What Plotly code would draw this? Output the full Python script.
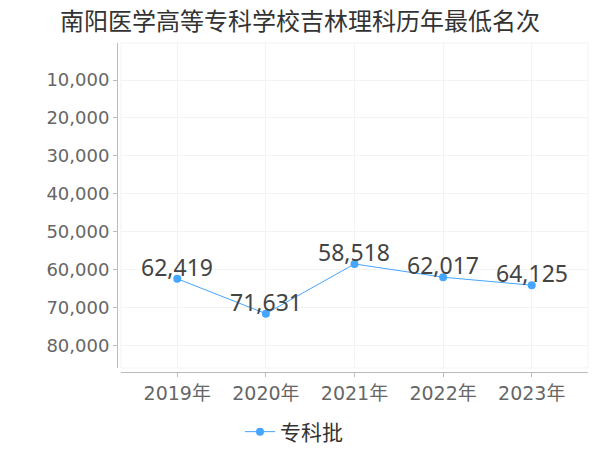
import plotly.graph_objects as go

title = "南阳医学高等专科学校吉林理科历年最低名次"
years = ["2019年", "2020年", "2021年", "2022年", "2023年"]
ranks = [62419, 71631, 58518, 62017, 64125]
series_name = "专科批"
y_ticks = [10000, 20000, 30000, 40000, 50000, 60000, 70000, 80000]

W, H = 600, 450
L, R, T, B = 117, 588.5, 43.3, 372.3
pad = 4

fig = go.Figure()
fig.add_trace(go.Scatter(
    x=years, y=ranks, name=series_name, mode="lines+markers",
    line=dict(color="#45a5ff", width=1),
    marker=dict(color="#45a5ff", size=8),
    cliponaxis=False,
))

annotations = [
    dict(x=yr, y=v, xref="x", yref="y", text=f"{v:,}", showarrow=False,
         xanchor="center", yanchor="middle", yshift=12,
         font=dict(family="Noto Sans, DejaVu Sans", size=23, color="#444444"))
    for yr, v in zip(years, ranks)
]

fig.update_layout(
    width=W, height=H,
    margin=dict(l=L, r=W - R, t=T, b=H - B, pad=0, autoexpand=False),
    paper_bgcolor="white", plot_bgcolor="white",
    title=dict(text=title, x=0.5, xanchor="center", xref="container",
               y=1 - 22 / H, yanchor="middle", yref="container",
               font=dict(family="Noto Sans CJK SC", size=24, color="#333333")),
    showlegend=True,
    legend=dict(orientation="h", x=294 / W, xanchor="center", xref="container",
                y=1 - 432 / H, yanchor="middle", yref="container",
                font=dict(family="Noto Sans CJK SC", size=21, color="#333333"),
                itemwidth=30),
    annotations=annotations,
    xaxis=dict(
        domain=[pad / (R - L), 1], anchor="free", position=0, automargin=False,
        type="category", range=[-0.635, 4.635],
        showline=True, linecolor="#bbbbbb", linewidth=1,
        ticks="outside", ticklen=4, tickcolor="#bbbbbb",
        showgrid=True, gridcolor="#f3f3f3", gridwidth=1,
        tickfont=dict(family="DejaVu Sans, Noto Sans CJK SC", size=19, color="#666666"),
        zeroline=False,
    ),
    yaxis=dict(
        domain=[pad / (B - T), 1], anchor="free", position=0, automargin=False,
        range=[85960, 240],
        tickvals=y_ticks, ticktext=[f"{v:,}" for v in y_ticks],
        showline=True, linecolor="#bbbbbb", linewidth=1,
        ticks="outside", ticklen=4, tickcolor="#bbbbbb",
        showgrid=True, gridcolor="#f3f3f3", gridwidth=1,
        tickfont=dict(family="DejaVu Sans", size=18, color="#666666"),
        zeroline=False,
    ),
    shapes=[
        dict(type="line", xref="x domain", yref="y domain", x0=1, x1=1, y0=0, y1=1,
             line=dict(color="#f3f3f3", width=1), layer="below"),
        dict(type="line", xref="x domain", yref="y domain", x0=0, x1=1, y0=1, y1=1,
             line=dict(color="#f3f3f3", width=1), layer="below"),
        dict(type="line", xref="x domain", yref="y domain", x0=0, x1=0, y0=0, y1=1,
             line=dict(color="#f3f3f3", width=1), layer="below"),
        dict(type="line", xref="x domain", yref="y domain", x0=0, x1=1, y0=0, y1=0,
             line=dict(color="#f3f3f3", width=1), layer="below"),
    ],
)

fig.write_html("out.html", config={"displayModeBar": False},
               post_script="document.body.style.margin='0';")
